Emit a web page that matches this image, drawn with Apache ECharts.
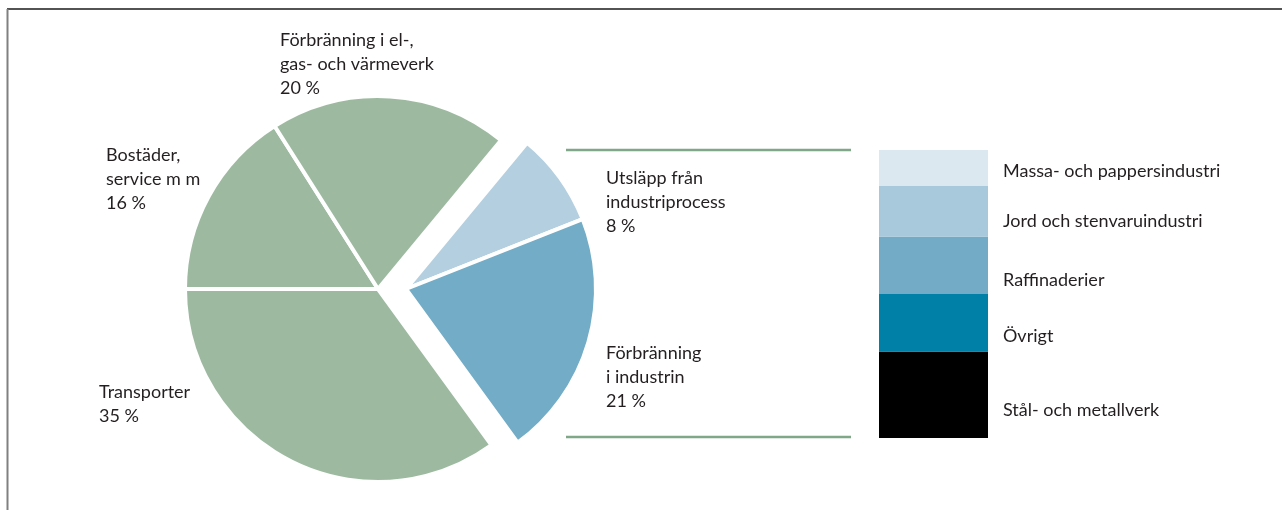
<!DOCTYPE html>
<html>
<head>
<meta charset="utf-8">
<script src="https://cdn.jsdelivr.net/npm/echarts@6/dist/echarts.min.js"></script>
<style>
  html, body { margin: 0; padding: 0; background: #fff; }
  #main { width: 1282px; height: 510px; }
</style>
</head>
<body>
<div id="main"></div>
<script>
// ==============================
// Data
// ==============================

// pie, clockwise from 9 o'clock
const pieNames = [
    'Bostäder,\nservice m m',
    'Förbränning i el-,\ngas- och värmeverk',
    'Utsläpp från\nindustriprocess',
    'Förbränning\ni industrin',
    'Transporter'
];
const pieValues = [16, 20, 8, 21, 35];
const pieExploded = [false, false, true, true, false];

// industry breakdown, bottom to top
const industryNames = [
    'Stål- och metallverk',
    'Övrigt',
    'Raffinaderier',
    'Jord och stenvaruindustri',
    'Massa- och pappersindustri'
];
const industryValues = [30, 20, 20, 17.5, 12.5];


// ==============================
// Styles
// ==============================

const GREEN = '#9dbaa1';
const pieColors = [GREEN, GREEN, '#b3cfe0', '#72acc7', GREEN];
const barColors = ['#000000', '#0080a6', '#73abc6', '#a8c9db', '#dbe8ef'];

// label anchors (top-left) for pie labels
const pieLabelPos = [
    [106, 143],
    [280, 28],
    [606, 166],
    [606, 341],
    [99, 380]
];

// label vertical nudges for the bar legend texts
const barLabelShift = [15, 13, 15, 10, 3];

const FONT = 'Lato, "Open Sans", sans-serif';
const TEXT = '#231f20';
const FS = 18;

var myChart = echarts.init(document.getElementById('main'));


// ==============================
// Pie series builder
// ==============================

function pieSeries(exploded, center, radius){

    return {
        type: 'pie',
        center: center,
        radius: radius,
        startAngle: 180,
        clockwise: true,
        silent: true,
        animation: false,
        itemStyle: {
            borderColor: '#fff',
            borderWidth: 4
        },
        label: {
            show: true,
            position: 'outside',
            fontFamily: FONT,
            fontSize: FS,
            lineHeight: 24,
            color: TEXT,
            align: 'left',
            formatter: p => p.name + '\n' + p.value + ' %'
        },
        labelLine: { show: false },
        labelLayout: function(params){
            const pos = pieLabelPos[params.dataIndex];
            return {
                x: pos[0],
                y: pos[1],
                align: 'left',
                verticalAlign: 'top',
                hideOverlap: false,
                moveOverlap: false
            };
        },
        data: pieValues.map((v, i) => {
            const visible = pieExploded[i] === exploded;
            return {
                name: pieNames[i],
                value: v,
                itemStyle: visible
                    ? { color: pieColors[i] }
                    : { color: 'rgba(0,0,0,0)', borderColor: 'rgba(0,0,0,0)' },
                label: { show: visible }
            };
        })
    };

}


// ==============================
// Option
// ==============================

const barSeries = industryValues.map((v, i) => ({
    type: 'bar',
    name: industryNames[i],
    stack: 'ind',
    xAxisIndex: 0,
    yAxisIndex: 0,
    barWidth: '100%',
    silent: true,
    animation: false,
    itemStyle: { color: barColors[i] },
    label: {
        show: true,
        position: 'right',
        distance: 15,
        offset: [0, barLabelShift[i]],
        fontFamily: FONT,
        fontSize: FS,
        color: TEXT,
        formatter: industryNames[i]
    },
    data: [v]
}));

myChart.setOption({

    backgroundColor: '#fff',

    grid: {
        left: 879,
        top: 150,
        width: 109,
        height: 288
    },

    xAxis: {
        type: 'category',
        data: ['industri'],
        show: false
    },

    yAxis: {
        type: 'value',
        min: 0,
        max: 100,
        show: false
    },

    graphic: [
        { type: 'line', shape: { x1: 7, y1: 9, x2: 1282, y2: 9 },
          style: { stroke: '#1a1a1a', lineWidth: 1.5 } },
        { type: 'line', shape: { x1: 7.5, y1: 9, x2: 7.5, y2: 510 },
          style: { stroke: '#808080', lineWidth: 2 } },
        { type: 'line', shape: { x1: 566, y1: 150, x2: 851, y2: 150 },
          style: { stroke: '#80a888', lineWidth: 2.5 } },
        { type: 'line', shape: { x1: 566, y1: 437, x2: 851, y2: 437 },
          style: { stroke: '#80a888', lineWidth: 2.5 } }
    ],

    series: [
        pieSeries(false, [378, 289], 193),
        pieSeries(true, [406, 289], 190)
    ].concat(barSeries)

});
</script>
</body>
</html>
